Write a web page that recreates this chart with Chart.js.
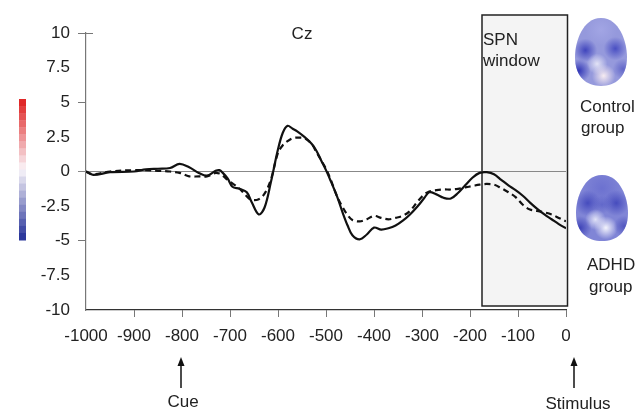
<!DOCTYPE html>
<html>
<head>
<meta charset="utf-8">
<script src="https://cdn.jsdelivr.net/npm/chart.js@4.4.1/dist/chart.umd.min.js"></script>
<style>
  html, body { margin: 0; padding: 0; background: #fff; }
  #erp { display: block; }
</style>
</head>
<body>
<canvas id="erp" width="637" height="413"></canvas>
<script>
// time (ms) relative to the stimulus
var times = [-1000, -985, -950, -900, -875, -850, -825, -805, -785, -765, -748, -730, -722, -715, -705, -695,
  -680, -665, -655, -640, -628, -615, -600, -590, -580, -570, -560, -545, -530, -520, -510, -500, -490,
  -477, -465, -455, -445, -430, -415, -400, -385, -370, -355, -340, -325, -310, -295, -285, -270, -255,
  -240, -225, -210, -195, -180, -165, -150, -135, -120, -105, -90, -75, -60, -45, -30, -15, 0];

// solid line (Cz amplitude, µV)
var solidWave = [0, -0.25, -0.05, 0, 0.15, 0.2, 0.25, 0.55, 0.3, -0.1, -0.3, 0.05, 0.1, -0.1, -0.5, -1.1,
  -1.25, -1.5, -2.2, -3.1, -2.6, -0.8, 1.6, 2.8, 3.3, 3.1, 2.9, 2.5, 2.0, 1.5, 0.8, 0.1, -0.7,
  -1.8, -3.0, -3.9, -4.6, -4.9, -4.55, -4.05, -4.2, -4.1, -3.9, -3.55, -3.1, -2.55, -1.9, -1.5, -1.65, -1.9,
  -1.95, -1.55, -1.0, -0.45, -0.1, -0.05, -0.2, -0.6, -1.0, -1.35, -1.75, -2.25, -2.7, -3.1, -3.45, -3.8, -4.1];

// dashed line
var dashedWave = [0, -0.2, 0, 0.1, 0.1, 0.05, 0, -0.1, -0.35, -0.35, -0.35, -0.1, -0.15, -0.3, -0.6, -0.85,
  -1.25, -1.8, -2.05, -2.0, -1.6, -0.6, 1.35, 1.9, 2.2, 2.4, 2.45, 2.4, 2.0, 1.4, 0.8, 0.2, -0.6,
  -1.8, -2.6, -3.15, -3.5, -3.6, -3.45, -3.2, -3.35, -3.45, -3.35, -3.2, -2.85, -2.2, -1.65, -1.45, -1.35, -1.3,
  -1.3, -1.25, -1.15, -1.05, -0.95, -0.9, -0.95, -1.2, -1.5, -1.85, -2.4, -2.75, -2.85, -2.95, -3.1, -3.35, -3.6];

var spnWindow = [-175, 0];
var cueTime = -800;
var stimulusTime = 0;

var FONT = '"Liberation Sans", Arial, sans-serif';

function toPoints(values) {
  return times.map(function (t, i) { return { x: t, y: values[i] }; });
}

// colour scale, red -> white -> blue
function scaleColour(f) {
  var top = [224, 40, 40], mid = [250, 246, 250], bot = [44, 56, 156];
  var a, b, k;
  if (f < 0.5) { a = top; b = mid; k = f / 0.5; } else { a = mid; b = bot; k = (f - 0.5) / 0.5; }
  var c = a.map(function (v, i) { return Math.round(v + (b[i] - v) * k); });
  return 'rgb(' + c.join(',') + ')';
}

function eggPath(ctx, cx, cy, rx, ry) {
  ctx.beginPath();
  ctx.moveTo(cx, cy - ry);
  ctx.bezierCurveTo(cx + rx * 0.7, cy - ry, cx + rx, cy - ry * 0.3, cx + rx, cy + ry * 0.15);
  ctx.bezierCurveTo(cx + rx, cy + ry * 0.75, cx + rx * 0.55, cy + ry, cx, cy + ry);
  ctx.bezierCurveTo(cx - rx * 0.55, cy + ry, cx - rx, cy + ry * 0.75, cx - rx, cy + ry * 0.15);
  ctx.bezierCurveTo(cx - rx, cy - ry * 0.3, cx - rx * 0.7, cy - ry, cx, cy - ry);
  ctx.closePath();
}

function drawHead(ctx, cx, cy, rx, ry, adhd) {
  ctx.save();
  eggPath(ctx, cx, cy, rx, ry);
  ctx.clip();
  ctx.fillStyle = adhd ? '#8085d6' : '#9599dc';
  ctx.fillRect(cx - rx, cy - ry, rx * 2, ry * 2);
  var blobs = adhd ? [
    [0, -ry * 0.6, rx * 0.8, 'rgba(100,105,205,0.7)'],
    [-rx * 0.55, -ry * 0.15, rx * 0.5, 'rgba(60,66,185,0.85)'],
    [rx * 0.55, -ry * 0.15, rx * 0.5, 'rgba(60,66,185,0.85)'],
    [0, -ry * 0.1, rx * 0.35, 'rgba(80,86,195,0.6)'],
    [-rx * 0.25, ry * 0.35, rx * 0.4, 'rgba(235,236,250,0.9)'],
    [rx * 0.15, ry * 0.6, rx * 0.45, 'rgba(250,250,255,0.95)'],
    [-rx * 0.85, ry * 0.6, rx * 0.45, 'rgba(55,60,180,0.9)'],
    [rx * 0.85, ry * 0.55, rx * 0.4, 'rgba(70,75,185,0.8)']
  ] : [
    [0, -ry * 0.65, rx * 0.6, 'rgba(165,168,230,0.8)'],
    [-rx * 0.6, -ry * 0.05, rx * 0.45, 'rgba(55,60,185,0.9)'],
    [rx * 0.55, -ry * 0.1, rx * 0.45, 'rgba(60,66,190,0.85)'],
    [-rx * 0.15, ry * 0.35, rx * 0.4, 'rgba(235,235,248,0.9)'],
    [rx * 0.1, ry * 0.7, rx * 0.45, 'rgba(252,240,242,0.95)'],
    [-rx * 0.85, ry * 0.55, rx * 0.45, 'rgba(45,50,180,0.95)'],
    [rx * 0.85, ry * 0.5, rx * 0.4, 'rgba(85,90,195,0.8)']
  ];
  blobs.forEach(function (b) {
    var g = ctx.createRadialGradient(cx + b[0], cy + b[1], 0, cx + b[0], cy + b[1], b[2]);
    g.addColorStop(0, b[3]);
    g.addColorStop(1, b[3].replace(/[\d.]+\)$/, '0)'));
    ctx.fillStyle = g;
    ctx.fillRect(cx - rx, cy - ry, rx * 2, ry * 2);
  });
  ctx.restore();
}

var decorations = {
  id: 'decorations',
  beforeDatasetsDraw: function (chart) {
    var ctx = chart.ctx, x = chart.scales.x, y = chart.scales.y, area = chart.chartArea;
    ctx.save();
    // SPN window box
    var bx0 = x.getPixelForValue(spnWindow[0]), bx1 = x.getPixelForValue(spnWindow[1]) + 1.5;
    ctx.fillStyle = '#f4f4f4';
    ctx.fillRect(bx0, 15, bx1 - bx0, area.bottom - 4 - 15);
    ctx.strokeStyle = '#222';
    ctx.lineWidth = 1.5;
    ctx.strokeRect(bx0, 15, bx1 - bx0, area.bottom - 4 - 15);
    // zero line
    var y0 = y.getPixelForValue(0);
    ctx.strokeStyle = '#888';
    ctx.lineWidth = 1.2;
    ctx.beginPath();
    ctx.moveTo(area.left - 8, y0);
    ctx.lineTo(x.getPixelForValue(0), y0);
    ctx.stroke();
    // cap tick at top of y axis
    ctx.strokeStyle = '#777';
    ctx.lineWidth = 1;
    ctx.beginPath();
    ctx.moveTo(area.left - 8, area.top + 0.5);
    ctx.lineTo(area.left + 7, area.top + 0.5);
    ctx.stroke();
    ctx.restore();
  },
  afterDraw: function (chart) {
    var ctx = chart.ctx, x = chart.scales.x;
    ctx.save();
    ctx.fillStyle = '#222';
    ctx.font = '17px ' + FONT;
    ctx.textBaseline = 'middle';
    ctx.textAlign = 'center';
    ctx.fillText('Cz', 302, 34);
    ctx.textAlign = 'left';
    ctx.fillText('SPN', x.getPixelForValue(spnWindow[0]) + 1, 40);
    ctx.fillText('window', x.getPixelForValue(spnWindow[0]) + 1, 61);
    ctx.fillText('Control', 580, 107);
    ctx.fillText('group', 581, 128);
    ctx.fillText('ADHD', 587, 265);
    ctx.fillText('group', 589, 287);
    // event arrows
    [[cueTime, 'Cue', 183, 402], [stimulusTime, 'Stimulus', 578, 404]].forEach(function (ev) {
      var px = x.getPixelForValue(ev[0]) + (ev[0] === 0 ? 8 : -1);
      ctx.strokeStyle = '#111';
      ctx.fillStyle = '#111';
      ctx.lineWidth = 1.5;
      ctx.beginPath();
      ctx.moveTo(px, 388);
      ctx.lineTo(px, 360);
      ctx.stroke();
      ctx.beginPath();
      ctx.moveTo(px, 357);
      ctx.lineTo(px - 3.5, 366);
      ctx.lineTo(px + 3.5, 366);
      ctx.closePath();
      ctx.fill();
      ctx.textAlign = 'center';
      ctx.fillStyle = '#222';
      ctx.fillText(ev[1], ev[2], ev[3]);
    });
    // colour scale
    var steps = 20, top = 99, h = 141;
    for (var i = 0; i < steps; i++) {
      ctx.fillStyle = scaleColour(i / (steps - 1));
      ctx.fillRect(19, top + i * h / steps, 7, h / steps + 0.5);
    }
    // scalp maps
    drawHead(ctx, 601, 52, 26, 34, false);
    drawHead(ctx, 602, 208, 26, 33, true);
    ctx.restore();
  }
};

new Chart('erp', {
  type: 'line',
  data: {
    datasets: [{
      label: 'Solid',
      data: toPoints(solidWave),
      borderColor: '#111',
      borderWidth: 2.2,
      pointRadius: 0,
      tension: 0.35,
      fill: false
    }, {
      label: 'Dashed',
      data: toPoints(dashedWave),
      borderColor: '#111',
      borderWidth: 2.2,
      borderDash: [6, 4],
      pointRadius: 0,
      tension: 0.35,
      fill: false
    }]
  },
  options: {
    responsive: false,
    animation: false,
    devicePixelRatio: 1,
    layout: { padding: { left: 0, top: 33, right: 71, bottom: 0 } },
    plugins: {
      legend: { display: false },
      tooltip: { enabled: false }
    },
    scales: {
      x: {
        type: 'linear',
        min: -1000,
        max: 0,
        afterFit: function (scale) { scale.height = 103; },
        ticks: {
          stepSize: 100,
          maxRotation: 0,
          autoSkip: false,
          padding: 9,
          color: '#222',
          font: { family: FONT, size: 17 },
          callback: function (v) { return String(v); }
        },
        grid: {
          drawOnChartArea: false,
          tickLength: 7,
          tickColor: function (c) { return c.tick && c.tick.value === -1000 ? 'rgba(0,0,0,0)' : '#777'; }
        },
        border: { color: '#333', width: 1.2 }
      },
      y: {
        min: -10,
        max: 10,
        afterFit: function (scale) { scale.width = 86; },
        ticks: {
          stepSize: 2.5,
          padding: 8,
          color: '#222',
          font: { family: FONT, size: 17 },
          callback: function (v) { return String(v); }
        },
        grid: {
          drawOnChartArea: false,
          tickLength: 8,
          tickColor: function (c) {
            var v = c.tick ? c.tick.value : 1;
            return (v % 5 === 0 && v !== -10) ? '#777' : 'rgba(0,0,0,0)';
          }
        },
        border: { color: '#777', width: 1.2 }
      }
    }
  },
  plugins: [decorations]
});
</script>
</body>
</html>
